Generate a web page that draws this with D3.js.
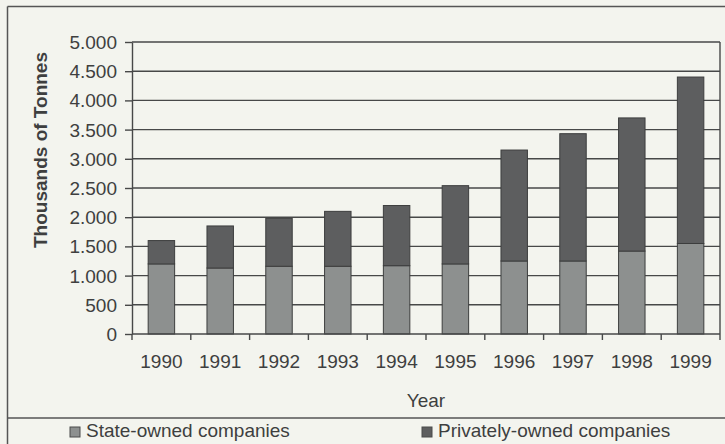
<!DOCTYPE html>
<html>
<head>
<meta charset="utf-8">
<script src="https://cdn.jsdelivr.net/npm/d3@7"></script>
<style>
  html, body { margin: 0; padding: 0; background: #f3f4ee; }
  svg { display: block; }
  text { font-family: "Liberation Sans", Arial, sans-serif; fill: #3e3f3f; }
</style>
</head>
<body>
<svg id="chart" width="725" height="444"></svg>
<script>
// Annual output, thousands of tonnes
const years = ["1990", "1991", "1992", "1993", "1994", "1995", "1996", "1997", "1998", "1999"];
const stateOwned = [1200, 1130, 1160, 1160, 1170, 1200, 1250, 1250, 1420, 1550];
const privatelyOwned = [400, 720, 820, 940, 1030, 1340, 1900, 2180, 2280, 2850];
const yTicks = [0, 500, 1000, 1500, 2000, 2500, 3000, 3500, 4000, 4500, 5000];
const seriesNames = ["State-owned companies", "Privately-owned companies"];

const svg = d3.select("#chart");
const plot = { left: 132, right: 720, top: 42, bottom: 334 };
const colors = { state: "#8d908f", priv: "#5d5e5f", line: "#474848" };

// Outer frame and legend separator
svg.append("line").attr("x1", 7.5).attr("x2", 725).attr("y1", 6.5).attr("y2", 6.5)
  .attr("stroke", "#555").attr("stroke-width", 1.5);
svg.append("line").attr("x1", 7.5).attr("x2", 7.5).attr("y1", 6.5).attr("y2", 444)
  .attr("stroke", "#555").attr("stroke-width", 1.5);
svg.append("line").attr("x1", 7.5).attr("x2", 725).attr("y1", 418).attr("y2", 418)
  .attr("stroke", "#555").attr("stroke-width", 1.5);

const x = d3.scaleBand().domain(years).range([plot.left, plot.right]).paddingInner(0.55).paddingOuter(0.275);
const y = d3.scaleLinear().domain([0, 5000]).range([plot.bottom, plot.top]);

const loc = d3.formatLocale({ decimal: ",", thousands: ".", grouping: [3], currency: ["", ""] });
const fmt = loc.format(",d");

// Horizontal gridlines
svg.append("g").selectAll("line").data(yTicks.filter(d => d > 0)).join("line")
  .attr("x1", plot.left).attr("x2", plot.right)
  .attr("y1", d => y(d)).attr("y2", d => y(d))
  .attr("stroke", colors.line).attr("stroke-width", 1.4);

// Right frame of plot area
svg.append("line").attr("x1", plot.right).attr("x2", plot.right).attr("y1", plot.top).attr("y2", plot.bottom)
  .attr("stroke", colors.line).attr("stroke-width", 1.4);

// Stacked bars
const stackData = years.map((yr, i) => ({ year: yr, state: stateOwned[i], priv: privatelyOwned[i] }));
const stack = d3.stack().keys(["state", "priv"])(stackData);
svg.append("g").selectAll("g").data(stack).join("g")
  .attr("fill", d => colors[d.key])
  .selectAll("rect").data(d => d).join("rect")
  .attr("x", d => x(d.data.year))
  .attr("width", x.bandwidth())
  .attr("y", d => y(d[1]))
  .attr("height", d => y(d[0]) - y(d[1]))
  .attr("stroke", "#3d3e3e").attr("stroke-width", 1);

// Y axis
const yAxis = svg.append("g").attr("transform", `translate(${plot.left},0)`)
  .call(d3.axisLeft(y).tickValues(yTicks).tickFormat(fmt).tickSizeInner(7).tickSizeOuter(0).tickPadding(8));
yAxis.select(".domain").attr("stroke", colors.line).attr("stroke-width", 1.4);
yAxis.selectAll(".tick line").attr("stroke", colors.line).attr("stroke-width", 1.4);
yAxis.selectAll(".tick text").attr("font-size", 19).attr("dy", "0.34em")
  .style("font-family", "'Liberation Sans', Arial, sans-serif").attr("fill", "#3e3f3f");

// X axis with ticks at category boundaries
const xg = svg.append("g").attr("transform", `translate(0,${plot.bottom})`);
xg.append("line").attr("x1", plot.left).attr("x2", plot.right).attr("stroke", colors.line).attr("stroke-width", 1.4);
xg.selectAll("line.tk").data(d3.range(years.length + 1)).join("line").attr("class", "tk")
  .attr("x1", i => plot.left + i * x.step()).attr("x2", i => plot.left + i * x.step())
  .attr("y1", 0).attr("y2", 6).attr("stroke", colors.line).attr("stroke-width", 1.4);
xg.selectAll("text").data(years).join("text")
  .attr("x", d => x(d) + x.bandwidth() / 2).attr("y", 34)
  .attr("text-anchor", "middle").attr("font-size", 19).text(d => d);

// Axis titles
svg.append("text").attr("x", (plot.left + plot.right) / 2).attr("y", 407)
  .attr("text-anchor", "middle").attr("font-size", 19).text("Year");
svg.append("text").attr("transform", "translate(47,150) rotate(-90)")
  .attr("text-anchor", "middle").attr("font-size", 19).attr("font-weight", "bold")
  .text("Thousands of Tonnes");

// Legend
const legendItems = [
  { name: seriesNames[0], color: colors.state, x: 70 },
  { name: seriesNames[1], color: colors.priv, x: 422 }
];
const lg = svg.append("g").selectAll("g").data(legendItems).join("g")
  .attr("transform", d => `translate(${d.x},0)`);
lg.append("rect").attr("x", 0).attr("y", 427).attr("width", 10).attr("height", 10)
  .attr("fill", d => d.color).attr("stroke", "#4a4b4b").attr("stroke-width", 1);
lg.append("text").attr("x", 16).attr("y", 437).attr("font-size", 19).text(d => d.name);
</script>
</body>
</html>
